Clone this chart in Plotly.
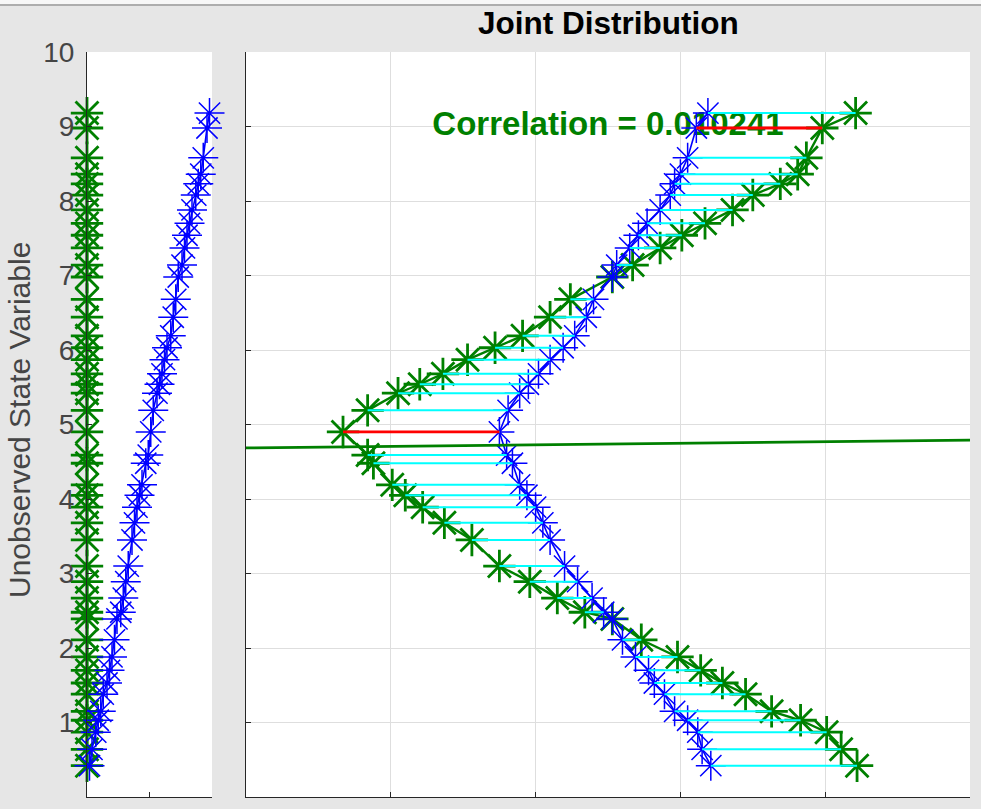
import plotly.graph_objects as go

# Unobserved state values shared by every pair (top to bottom)
state_y = [9.18, 8.98, 8.58, 8.36, 8.23, 8.08, 7.88, 7.70, 7.54, 7.37,
           7.14, 6.98, 6.68, 6.44, 6.19, 6.03, 5.87, 5.68, 5.54, 5.42,
           5.19, 4.90, 4.59, 4.48, 4.19, 4.05, 3.89, 3.68, 3.45, 3.10,
           2.89, 2.67, 2.48, 2.39, 2.11, 1.88, 1.70, 1.53, 1.38, 1.15,
           1.03, 0.87, 0.64, 0.42]

# Observed values of the first (green) series
green_x = [4.21, 3.98, 3.87, 3.81, 3.69, 3.50, 3.36, 3.17, 3.01, 2.86,
           2.67, 2.53, 2.24, 2.10, 1.91, 1.72, 1.53, 1.36, 1.20, 1.05,
           0.84, 0.67, 0.84, 0.88, 1.01, 1.10, 1.22, 1.37, 1.56, 1.75,
           1.96, 2.15, 2.34, 2.53, 2.73, 2.98, 3.14, 3.29, 3.45, 3.63,
           3.83, 4.01, 4.11, 4.22]

# Observed values of the second (blue) series
blue_x = [3.19, 3.11, 3.05, 3.00, 2.96, 2.93, 2.86, 2.77, 2.71, 2.65,
          2.56, 2.53, 2.40, 2.35, 2.27, 2.19, 2.10, 2.02, 1.95, 1.89,
          1.81, 1.75, 1.80, 1.84, 1.89, 1.94, 2.00, 2.05, 2.10, 2.20,
          2.29, 2.39, 2.47, 2.53, 2.60, 2.69, 2.78, 2.82, 2.89, 2.96,
          3.05, 3.12, 3.15, 3.21]

# Marginal panel: cumulative share of the state variable
marginal_x = [0.98, 0.96, 0.93, 0.91, 0.89, 0.87, 0.84, 0.82, 0.80, 0.78,
              0.76, 0.73, 0.71, 0.69, 0.67, 0.64, 0.62, 0.60, 0.58, 0.56,
              0.53, 0.51, 0.49, 0.47, 0.44, 0.42, 0.40, 0.38, 0.36, 0.33,
              0.31, 0.29, 0.27, 0.24, 0.22, 0.20, 0.18, 0.16, 0.13, 0.11,
              0.09, 0.07, 0.04, 0.02]
marginal_zero = [0.0] * len(state_y)

# Pairs highlighted in red
highlight_idx = [1, 21]

# Fitted line through the joint distribution
fit_intercept = 4.685
fit_slope = 0.021
fit_x = [0.0, 5.0]

corr_label = "Correlation = 0.010241"
corr_pos = (2.5, 9.0)

y_ticks = list(range(0, 11))

GREEN = "rgb(0,128,0)"
BLUE = "rgb(0,0,255)"
CYAN = "rgb(0,255,255)"
RED = "rgb(255,0,0)"
AXIS = "#262626"
LABEL = "#454545"
FONT = "Liberation Sans, Arial, Helvetica, sans-serif"

fig = go.Figure()

# ---- marginal panel (left) ----
fig.add_trace(go.Scatter(
    x=marginal_zero, y=state_y, mode="lines+markers", xaxis="x", yaxis="y",
    line=dict(color=GREEN, width=2),
    marker=dict(symbol="asterisk-open", size=27, color=GREEN,
                line=dict(color=GREEN, width=2.8)),
    cliponaxis=False, hoverinfo="skip", showlegend=False))
fig.add_trace(go.Scatter(
    x=marginal_x, y=state_y, mode="lines+markers", xaxis="x", yaxis="y",
    line=dict(color=BLUE, width=1.6),
    marker=dict(symbol="asterisk-open", size=25, color=BLUE,
                line=dict(color=BLUE, width=1.5)),
    cliponaxis=False, hoverinfo="skip", showlegend=False))

# ---- joint panel (right) ----
fig.add_trace(go.Scatter(
    x=[corr_pos[0]], y=[corr_pos[1]], mode="text", text=[corr_label],
    textposition="middle center", xaxis="x2", yaxis="y2",
    textfont=dict(family=FONT, size=33, color=GREEN, weight="bold"),
    cliponaxis=False, hoverinfo="skip", showlegend=False))

fig.add_trace(go.Scatter(
    x=green_x, y=state_y, mode="lines+markers", xaxis="x2", yaxis="y2",
    line=dict(color=GREEN, width=2.4),
    marker=dict(symbol="asterisk-open", size=27, color=GREEN,
                line=dict(color=GREEN, width=2.8)),
    cliponaxis=False, hoverinfo="skip", showlegend=False))
fig.add_trace(go.Scatter(
    x=blue_x, y=state_y, mode="lines+markers", xaxis="x2", yaxis="y2",
    line=dict(color=BLUE, width=1.6),
    marker=dict(symbol="asterisk-open", size=25, color=BLUE,
                line=dict(color=BLUE, width=1.5)),
    cliponaxis=False, hoverinfo="skip", showlegend=False))

# connectors between each blue/green pair
cx, cy = [], []
for xb, xg, yv in zip(blue_x, green_x, state_y):
    cx += [xb, xg, None]
    cy += [yv, yv, None]
fig.add_trace(go.Scatter(
    x=cx, y=cy, mode="lines", xaxis="x2", yaxis="y2",
    line=dict(color=CYAN, width=2), hoverinfo="skip", showlegend=False))

rx, ry = [], []
for i in highlight_idx:
    rx += [blue_x[i], green_x[i], None]
    ry += [state_y[i], state_y[i], None]
fig.add_trace(go.Scatter(
    x=rx, y=ry, mode="lines", xaxis="x2", yaxis="y2",
    line=dict(color=RED, width=2.8), hoverinfo="skip", showlegend=False))

fig.add_trace(go.Scatter(
    x=fit_x, y=[fit_intercept + fit_slope * v for v in fit_x],
    mode="lines", xaxis="x2", yaxis="y2",
    line=dict(color=GREEN, width=2.8), hoverinfo="skip", showlegend=False))

W, H = 981, 809
y_dom = [(H - 797) / H, (H - 52) / H]

common = dict(showline=True, linecolor=AXIS, linewidth=1, ticks="inside",
              ticklen=5, tickcolor=AXIS, tickwidth=1, zeroline=False,
              mirror=False, fixedrange=True, automargin=False)

fig.update_layout(
    width=W, height=H, autosize=False,
    margin=dict(l=0, r=0, t=0, b=0, pad=0),
    paper_bgcolor="#e6e6e6", plot_bgcolor="white",
    font=dict(family=FONT, color=LABEL),
    xaxis=dict(domain=[87 / W, 212 / W], range=[0, 1], anchor="y",
               tickvals=[0, 0.5, 1], showticklabels=False, showgrid=False,
               **common),
    yaxis=dict(domain=y_dom, range=[0, 10], anchor="x", tickvals=y_ticks,
               ticktext=[str(v) for v in y_ticks], showgrid=False,
               tickfont=dict(size=28, color=LABEL),
               ticklabelstandoff=6, **common),
    xaxis2=dict(domain=[246 / W, 970 / W], range=[0, 5], anchor="y2",
                tickvals=[0, 1, 2, 3, 4, 5], showticklabels=False,
                showgrid=True, gridcolor="#dedede", gridwidth=1, **common),
    yaxis2=dict(domain=y_dom, range=[0, 10], anchor="x2", tickvals=y_ticks,
                showticklabels=False, showgrid=True, gridcolor="#dedede",
                gridwidth=1, **common),
    annotations=[
        dict(text="<b>Joint Distribution</b>", xref="paper", yref="paper",
             x=608 / W, y=(H - 23) / H, xanchor="center", yanchor="middle",
             showarrow=False, font=dict(size=31.5, color="black", family=FONT)),
        dict(text="Unobserved State Variable", xref="paper", yref="paper",
             x=19 / W, y=(H - 420) / H, xanchor="center", yanchor="middle",
             textangle=-90, showarrow=False,
             font=dict(size=30, color=LABEL, family=FONT)),
    ],
    shapes=[
        dict(type="rect", xref="paper", yref="paper", x0=0, x1=1,
             y0=(H - 4) / H, y1=1, fillcolor="#f7f7f7", line=dict(width=0),
             layer="above"),
        dict(type="line", xref="paper", yref="paper", x0=0, x1=1,
             y0=(H - 5) / H, y1=(H - 5) / H,
             line=dict(color="#9a9a9a", width=1.5), layer="above"),
    ],
)

fig.write_html("out.html")
